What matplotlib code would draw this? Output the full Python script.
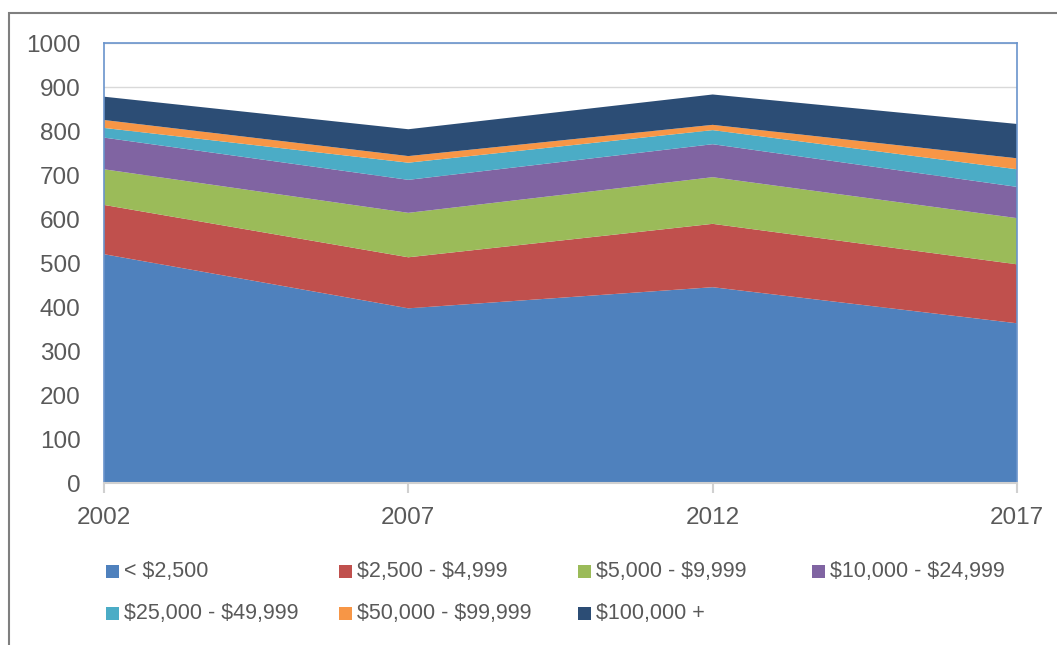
import matplotlib
matplotlib.use("Agg")
import matplotlib.pyplot as plt
from matplotlib.patches import Rectangle
import numpy as np

years = [2002, 2007, 2012, 2017]
labels = ["< $2,500", "$2,500 - $4,999", "$5,000 - $9,999", "$10,000 - $24,999",
          "$25,000 - $49,999", "$50,000 - $99,999", "$100,000 +"]
s_lt2500 = [520, 397, 445, 363]
s_2500_4999 = [112, 116, 144, 134]
s_5000_9999 = [81, 101, 106, 105]
s_10000_24999 = [72, 75, 75, 71]
s_25000_49999 = [22, 39, 32, 40]
s_50000_99999 = [18, 15, 12, 25]
s_100000p = [53, 61, 69, 78]
series = [s_lt2500, s_2500_4999, s_5000_9999, s_10000_24999,
          s_25000_49999, s_50000_99999, s_100000p]
colors = ["#4F81BD", "#C0504D", "#9BBB59", "#8064A2", "#4BACC6", "#F79646", "#2C4D75"]
yticks = [0, 100, 200, 300, 400, 500, 600, 700, 800, 900, 1000]

FONT = ["Liberation Sans", "DejaVu Sans"]
TXT = "#595959"

W, H = 1057, 645
fig = plt.figure(figsize=(W / 100, H / 100), dpi=100)
fig.patch.set_facecolor("white")

# chart frame (cropped)
fig.patches.append(Rectangle((9 / W, -0.1), 1.2, 1 - 13 / H + 0.1, transform=fig.transFigure,
                             fill=False, edgecolor="#7F7F7F", linewidth=1.5))

ax = fig.add_axes([104 / W, 1 - 483 / H, (1017 - 104) / W, (483 - 43) / H])
x = np.arange(len(years))
ax.stackplot(x, *series, colors=colors, linewidth=0, zorder=2)
ax.set_xlim(0, len(years) - 1)
ax.set_ylim(0, 1000)
ax.set_yticks(yticks)
ax.set_xticks(x)
ax.set_xticklabels([str(y) for y in years])
ax.grid(axis="y", color="#D9D9D9", linewidth=1, zorder=1)
ax.set_axisbelow(True)
for side in ["left", "top", "right"]:
    ax.spines[side].set_color("#6A94CC")
    ax.spines[side].set_linewidth(1.2)
    ax.spines[side].set_zorder(3)
ax.spines["bottom"].set_color("#D0D0D0")
ax.spines["bottom"].set_linewidth(1.5)
ax.spines["bottom"].set_zorder(3)
ax.tick_params(axis="y", length=0, pad=17, labelsize=17.5, labelcolor=TXT)
ax.tick_params(axis="x", length=7, width=1.5, color="#D0D0D0", pad=10, labelsize=17.5, labelcolor=TXT)
for lab in ax.get_xticklabels() + ax.get_yticklabels():
    lab.set_family(FONT)

# legend (Excel-style equal grid)
col_x = [106, 339, 578, 812]
row_y = [571, 613]
sq = 13
for i, (lab, c) in enumerate(zip(labels, colors)):
    r, cidx = divmod(i, 4)
    x0 = col_x[cidx]
    y0 = row_y[r]
    fig.patches.append(Rectangle((x0 / W, 1 - (y0 + sq / 2) / H), sq / W, sq / H,
                                 transform=fig.transFigure, facecolor=c, edgecolor="none"))
    fig.text((x0 + sq + 5) / W, 1 - y0 / H, lab, ha="left", va="center",
             fontsize=15.5, color=TXT, family=FONT, parse_math=False)

fig.savefig("out.png", dpi=100, facecolor="white")
